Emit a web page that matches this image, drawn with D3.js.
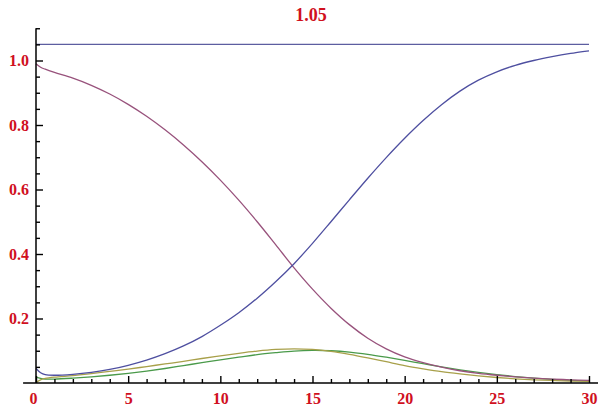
<!DOCTYPE html>
<html>
<head>
<meta charset="utf-8">
<script src="https://cdn.jsdelivr.net/npm/d3@7"></script>
<style>
  body { margin: 0; background: #fff; }
  svg { display: block; }
</style>
</head>
<body>
<script>
// chart values
const title = "1.05";
const levelValue = 1.05;
const xs = [0, 0.25, 0.5, 1, 2, 3, 4, 5, 6, 7, 8, 9, 10, 11, 12, 13, 14, 15, 16, 17, 18, 19, 20, 21, 22, 23, 24, 25, 26, 27, 28, 29, 30];
const blueVals = [0.045, 0.032, 0.026, 0.024, 0.027, 0.033, 0.042, 0.055, 0.071, 0.091, 0.115, 0.144, 0.179, 0.218, 0.263, 0.314, 0.370, 0.433, 0.500, 0.568, 0.635, 0.699, 0.759, 0.814, 0.863, 0.905, 0.939, 0.965, 0.985, 1.000, 1.012, 1.022, 1.030];
const redVals = [0.99, 0.979, 0.973, 0.963, 0.945, 0.923, 0.896, 0.864, 0.827, 0.785, 0.738, 0.686, 0.629, 0.567, 0.500, 0.429, 0.357, 0.291, 0.232, 0.181, 0.139, 0.106, 0.081, 0.063, 0.049, 0.038, 0.030, 0.024, 0.019, 0.015, 0.012, 0.010, 0.008];
const yellowVals = [0.002, 0.01, 0.014, 0.018, 0.023, 0.029, 0.036, 0.043, 0.051, 0.059, 0.067, 0.076, 0.084, 0.092, 0.099, 0.104, 0.106, 0.104, 0.098, 0.089, 0.078, 0.066, 0.054, 0.044, 0.035, 0.028, 0.022, 0.017, 0.013, 0.01, 0.008, 0.006, 0.005];
const greenVals = [0.018, 0.014, 0.012, 0.012, 0.015, 0.019, 0.024, 0.03, 0.037, 0.045, 0.054, 0.063, 0.072, 0.08, 0.088, 0.094, 0.099, 0.101, 0.1, 0.096, 0.089, 0.08, 0.07, 0.06, 0.05, 0.041, 0.033, 0.026, 0.02, 0.015, 0.011, 0.008, 0.006];
const xMajor = [0, 5, 10, 15, 20, 25, 30];
const yMajor = [0.2, 0.4, 0.6, 0.8, 1.0];

const width = 598, height = 411;
const labelColor = "#d0101e";
const labelFont = "'Liberation Serif', 'Times New Roman', serif";

const svg = d3.select("body").append("svg")
    .attr("width", width)
    .attr("height", height);

// scales - origin at (36,383)
const x = d3.scaleLinear().domain([0, 30]).range([36, 589]);
const y = d3.scaleLinear().domain([0, 1]).range([383, 60.5]);

// curves first, axes on top
const line = d3.line().x(d => x(d[0])).y(d => y(d[1])).curve(d3.curveCatmullRom.alpha(0.5));

const series = [
    { vals: xs.map(() => levelValue), color: "#5c5ea0" },
    { vals: greenVals, color: "#4a9a4a" },
    { vals: yellowVals, color: "#a8a04a" },
    { vals: redVals, color: "#98527c" },
    { vals: blueVals, color: "#4e4fa0" }
];

svg.selectAll("path.curve")
    .data(series)
    .enter()
    .append("path")
    .attr("class", "curve")
    .attr("d", s => line(xs.map((v, i) => [v, s.vals[i]])))
    .attr("fill", "none")
    .attr("stroke", s => s.color)
    .attr("stroke-width", 1.3);

// axis lines (Mathematica style, crossing at origin)
svg.append("line")
    .attr("x1", x(-0.7)).attr("x2", width)
    .attr("y1", y(0)).attr("y2", y(0))
    .attr("stroke", "#000").attr("stroke-width", 1.5);
svg.append("line")
    .attr("x1", x(0)).attr("x2", x(0))
    .attr("y1", y(1.1)).attr("y2", y(0))
    .attr("stroke", "#000").attr("stroke-width", 1.5);

// minor ticks
const xMinor = d3.range(1, 31).filter(v => v % 5 !== 0);
const yMinor = d3.range(1, 23).map(v => v * 0.05).filter(v => Math.round(v * 20) % 4 !== 0);

const xMinorAxis = svg.append("g")
    .attr("transform", `translate(0,${y(0)})`)
    .call(d3.axisBottom(x).tickValues(xMinor).tickSize(-4).tickFormat(""));
const yMinorAxis = svg.append("g")
    .attr("transform", `translate(${x(0)},0)`)
    .call(d3.axisLeft(y).tickValues(yMinor).tickSize(-4).tickFormat(""));

// major ticks with labels
const xAxis = svg.append("g")
    .attr("transform", `translate(0,${y(0)})`)
    .call(d3.axisBottom(x).tickValues(xMajor).tickSize(-7).tickPadding(10).tickFormat(d3.format("d")));
const yAxis = svg.append("g")
    .attr("transform", `translate(${x(0)},0)`)
    .call(d3.axisLeft(y).tickValues(yMajor).tickSize(-7).tickPadding(7).tickFormat(d3.format(".1f")));

[xMinorAxis, yMinorAxis, xAxis, yAxis].forEach(g => {
    g.select(".domain").remove();
    g.selectAll(".tick line").attr("stroke", "#000").attr("stroke-width", 1.4);
});

[xAxis, yAxis].forEach(g => {
    g.selectAll(".tick text")
        .attr("fill", labelColor)
        .style("font-family", labelFont)
        .style("font-weight", "bold")
        .style("font-size", "16px");
});
// the 0 label sits a little left of its tick
xAxis.selectAll(".tick text").filter(d => d === 0).attr("dx", "-3");

// title
svg.append("text")
    .attr("x", 311)
    .attr("y", 21)
    .attr("text-anchor", "middle")
    .attr("fill", labelColor)
    .style("font-family", labelFont)
    .style("font-weight", "bold")
    .style("font-size", "18px")
    .text(title);
</script>
</body>
</html>
